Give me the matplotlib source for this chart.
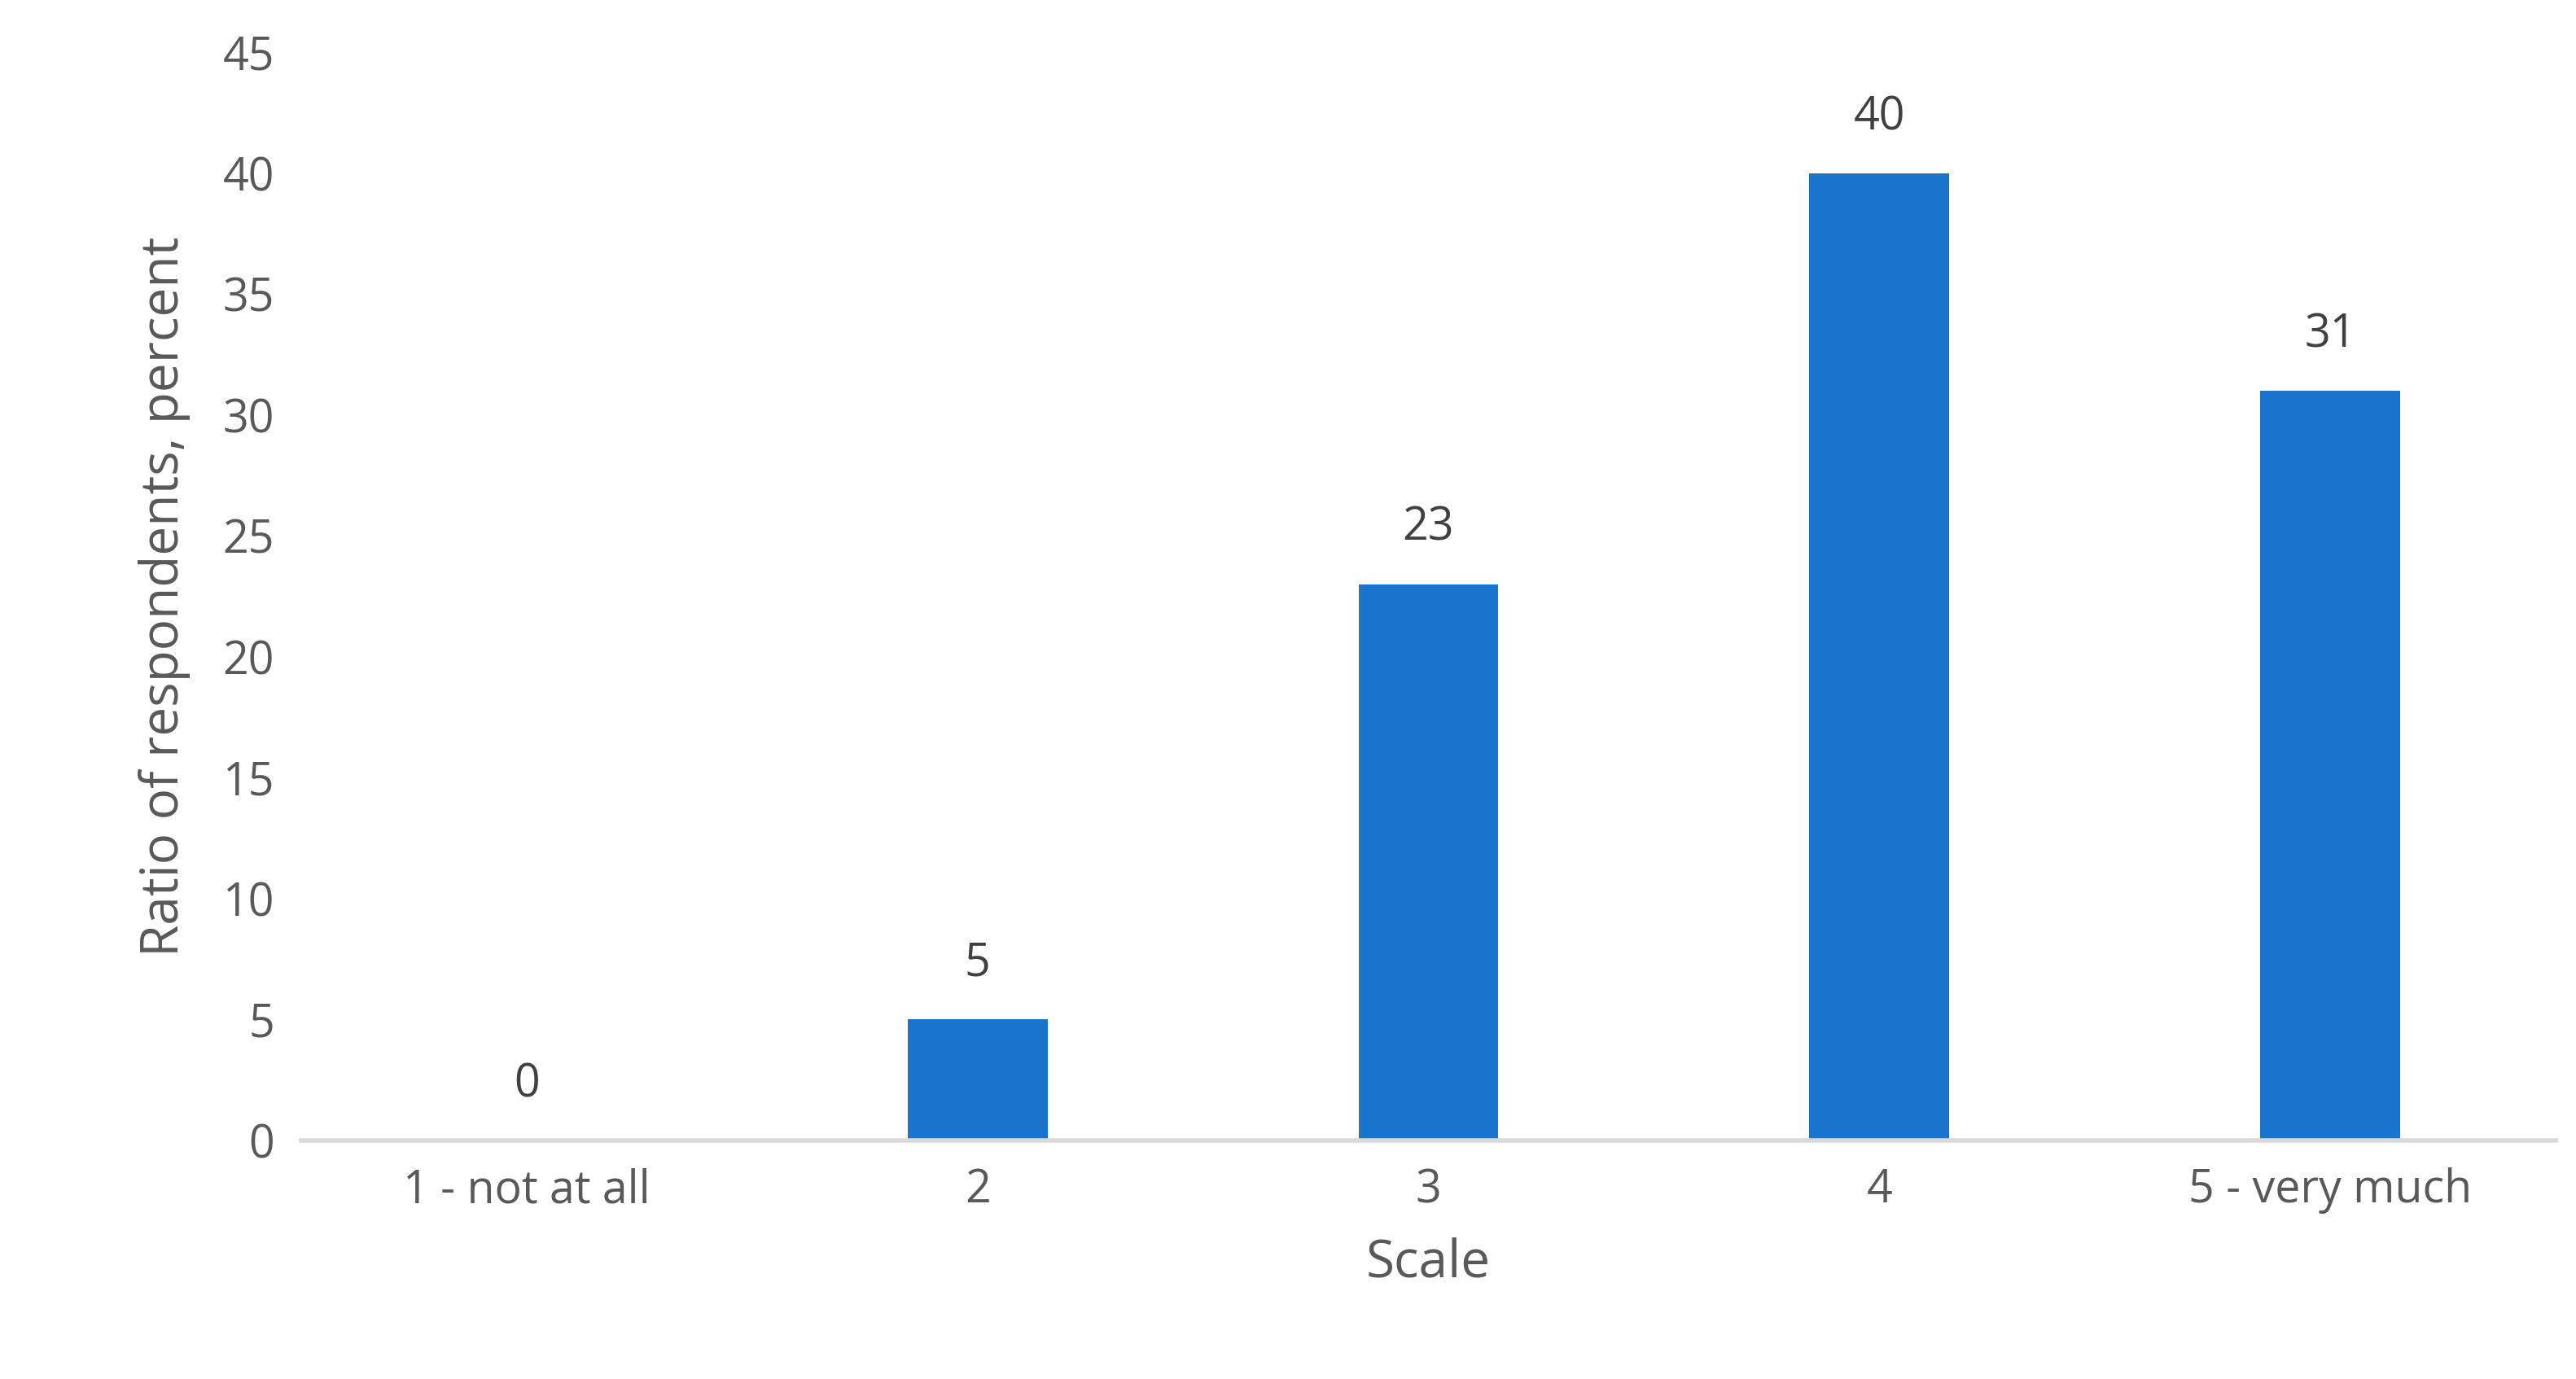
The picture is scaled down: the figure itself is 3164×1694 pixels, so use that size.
import matplotlib
matplotlib.use("Agg")
import matplotlib.pyplot as plt

categories = ["1 - not at all", "2", "3", "4", "5 - very much"]
values = [0, 5, 23, 40, 31]
yticks = list(range(0, 50, 5))

plt.rcParams["font.family"] = ["Open Sans", "DejaVu Sans"]

fig = plt.figure(figsize=(15.82, 8.47), dpi=200)
ax = fig.add_axes([0.117, 0.173, 0.875, 0.789])

x = range(len(categories))
ax.bar(x, values, width=0.31, color="#1874CD", zorder=2)
for xi, v in zip(x, values):
    ax.text(xi, v + 2.3, str(v), ha="center", va="center",
            fontsize=20, color="#404040")

ax.set_xlim(-0.5, len(categories) - 0.5)
ax.set_ylim(0, 45)
ax.set_yticks(yticks)
ax.set_xticks(list(x))
ax.set_xticklabels(categories)
ax.tick_params(axis="both", length=0, labelsize=20, colors="#595959", pad=12)
for s in ["top", "right", "left"]:
    ax.spines[s].set_visible(False)
ax.spines["bottom"].set_color("#D9D9D9")
ax.spines["bottom"].set_linewidth(2)

ax.set_xlabel("Scale", fontsize=23, color="#595959", labelpad=10)
ax.set_ylabel("Ratio of respondents, percent", fontsize=23, color="#595959", labelpad=14)

fig.savefig("out.png", dpi=200)
